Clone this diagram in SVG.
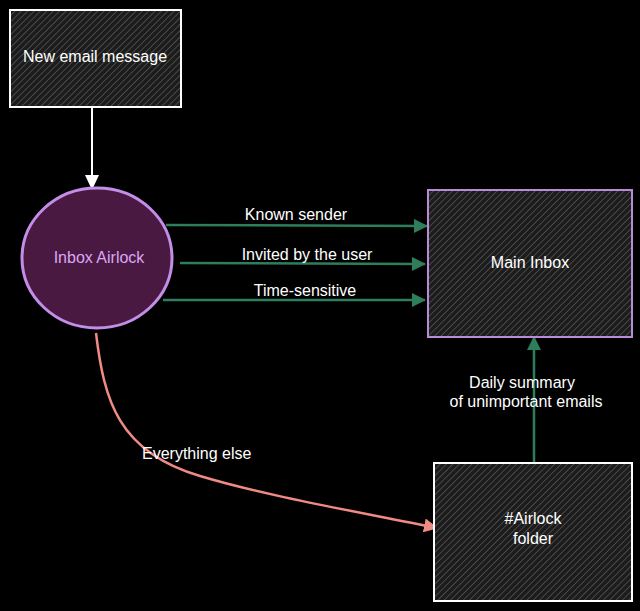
<svg xmlns="http://www.w3.org/2000/svg" width="640" height="611" viewBox="0 0 640 611">
<defs>
<pattern id="hatch" patternUnits="userSpaceOnUse" width="4.5" height="4.5" patternTransform="rotate(45)">
<rect width="4.5" height="4.5" fill="#1c1c1c"/>
<line x1="0" y1="0" x2="0" y2="4.5" stroke="#555555" stroke-width="1.5"/>
</pattern>
<marker id="ag" viewBox="0 0 14 14" refX="13" refY="7" markerWidth="14" markerHeight="14" markerUnits="userSpaceOnUse" orient="auto">
<path d="M0,0 L14,7 L0,14 Z" fill="#2e7d5b"/>
</marker>
<marker id="aw" viewBox="0 0 16 14" refX="15" refY="7" markerWidth="16" markerHeight="14" markerUnits="userSpaceOnUse" orient="auto">
<path d="M0,0 L15,7 L0,14 Z" fill="#ffffff"/>
</marker>
<marker id="ar" viewBox="0 0 14 14" refX="13" refY="7" markerWidth="14" markerHeight="14" markerUnits="userSpaceOnUse" orient="auto">
<path d="M0,0 L14,7 L0,14 Z" fill="#f08a84"/>
</marker>
</defs>
<style>
text{font-family:"Liberation Sans",Arial,sans-serif;font-size:16px;fill:#ffffff;text-anchor:middle}
.box{fill:url(#hatch);stroke-width:2}
.g{stroke:#2e7d5b;stroke-width:2.5;fill:none}
</style>
<rect width="640" height="611" fill="#000000"/>
<g id="connectors">
<line x1="92" y1="108" x2="92" y2="190" stroke="#ffffff" stroke-width="2" marker-end="url(#aw)"/>
<line class="g" x1="166" y1="225" x2="427" y2="226" marker-end="url(#ag)"/>
<line class="g" x1="180" y1="263" x2="425" y2="264" marker-end="url(#ag)"/>
<line class="g" x1="163" y1="300" x2="425" y2="300" marker-end="url(#ag)"/>
<line class="g" x1="534" y1="462" x2="534" y2="337" marker-end="url(#ag)"/>
<path d="M96,333 C104,400 118,452 200,476 C270,497 360,512 437,528" fill="none" stroke="#f08a84" stroke-width="2.5" marker-end="url(#ar)"/>
<text x="296" y="220">Known sender</text>
<text x="307" y="260">Invited by the user</text>
<text x="305" y="296">Time-sensitive</text>
<text x="522" y="388">Daily summary</text>
<text x="526" y="407">of unimportant emails</text>
<text x="142" y="459" style="text-anchor:start">Everything else</text>
</g>
<g id="new-email">
<rect class="box" x="10" y="10" width="171" height="97" stroke="#ffffff"/>
<text x="95" y="62">New email message</text>
</g>
<g id="inbox-airlock">
<ellipse cx="97" cy="258" rx="75" ry="70" fill="#4a1942" stroke="#c28ee8" stroke-width="3"/>
<text x="99" y="263" style="fill:#d9a8f5">Inbox Airlock</text>
</g>
<g id="main-inbox">
<rect class="box" x="428" y="190" width="204" height="147" stroke="#b98ad8"/>
<text x="530" y="268">Main Inbox</text>
</g>
<g id="airlock-folder">
<rect class="box" x="434" y="463" width="198" height="138" stroke="#ffffff"/>
<text x="533" y="524">#Airlock</text>
<text x="533" y="544">folder</text>
</g>
</svg>
